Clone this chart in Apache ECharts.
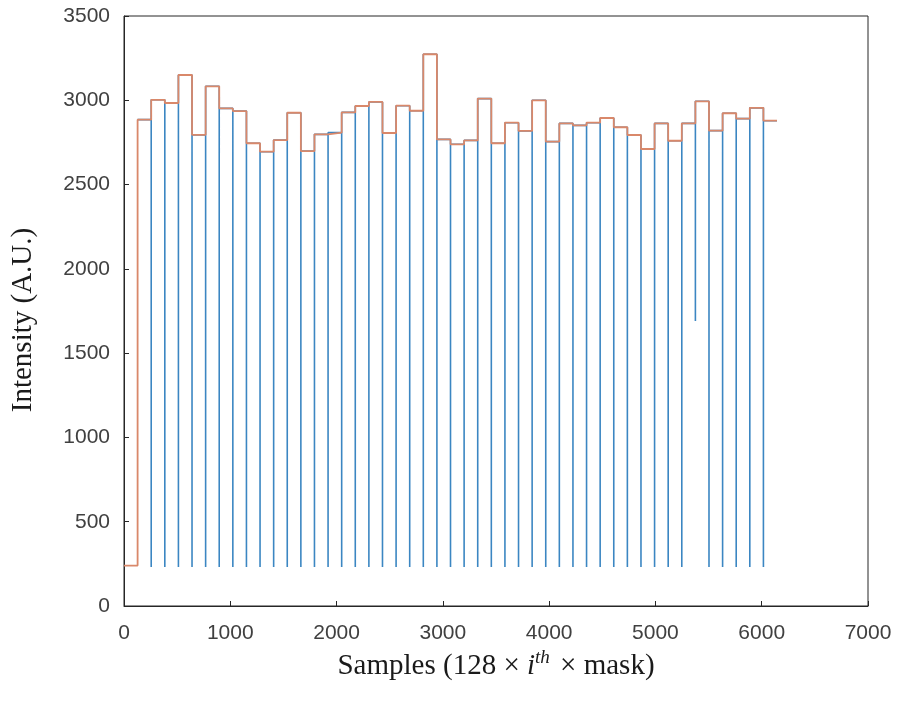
<!DOCTYPE html>
<html>
<head>
<meta charset="utf-8">
<script src="https://cdn.jsdelivr.net/npm/echarts@6/dist/echarts.min.js"></script>
<style>
  html, body { margin: 0; padding: 0; background: #fff; }
  #main { width: 898px; height: 704px; }
</style>
</head>
<body>
<div id="main"></div>
<script>
// samples per block (one mask step)
const blockSize = 128

// level of each 128-sample block
const blockLevels = [
    240, 2885, 3003, 2984, 3150, 2795, 3083, 2952, 2936, 2745,
    2695, 2764, 2926, 2699, 2798, 2808, 2928, 2966, 2990, 2806,
    2968, 2938, 3273, 2768, 2739, 2762, 3010, 2745, 2867, 2818,
    3000, 2755, 2863, 2851, 2867, 2895, 2840, 2794, 2711, 2863,
    2760, 2863, 2994, 2820, 2923, 2891, 2955, 2879
]

// blue trace dips at the start of blocks 2..47
const dipLevels = [
    232, 232, 232, 232, 232, 232, 232, 232, 232, 232,
    232, 232, 232, 232, 232, 232, 232, 232, 232, 232,
    232, 232, 232, 232, 232, 232, 232, 232, 232, 232,
    232, 232, 232, 232, 232, 232, 232, 232, 232, 232,
    1690, 232, 232, 232, 232, 232
]
const firstDipBlock = 2

const xTicks = [0, 1000, 2000, 3000, 4000, 5000, 6000, 7000]
const yTicks = [0, 500, 1000, 1500, 2000, 2500, 3000, 3500]

// orange: plain step trace
const stepData = []
blockLevels.forEach((v, k) => {
    stepData.push([k * blockSize, v])
    stepData.push([(k + 1) * blockSize, v])
})

// blue: same steps, but drops at each block boundary (starts where the dips start)
const dipData = []
blockLevels.forEach((v, k) => {
    if (k < firstDipBlock - 1) return
    const d = k - firstDipBlock
    if (d >= 0 && d < dipLevels.length) {
        dipData.push([k * blockSize, dipLevels[d]])
    }
    dipData.push([k * blockSize, v])
    dipData.push([(k + 1) * blockSize, v])
})

const axisColor = '#262626'
const labelColor = '#404040'
const serif = 'Liberation Serif, Times New Roman, serif'
const plain = v => String(v)

const chart = echarts.init(document.getElementById('main'))

chart.setOption({
    animation: false,
    backgroundColor: '#fff',
    grid: {
        left: 124, right: 30, top: 16, bottom: 98,
        show: true, borderColor: axisColor, borderWidth: 1
    },
    xAxis: {
        type: 'value',
        min: xTicks[0],
        max: xTicks[xTicks.length - 1],
        interval: 1000,
        splitLine: { show: false },
        axisLine: { lineStyle: { color: axisColor, width: 1 } },
        axisTick: { inside: true, length: 5, lineStyle: { color: axisColor } },
        axisLabel: {
            color: labelColor, fontSize: 21, margin: 17, formatter: plain,
            fontFamily: 'Liberation Sans, Arial, sans-serif'
        },
        name: '{a|Samples (128 × }{i|i}{s|th}{a| × mask)}',
        nameLocation: 'middle',
        nameGap: 40,
        nameTextStyle: {
            rich: {
                a: { fontSize: 29, color: '#1a1a1a', fontFamily: serif },
                i: { fontSize: 29, color: '#1a1a1a', fontStyle: 'italic', fontFamily: serif },
                s: { fontSize: 19, color: '#1a1a1a', fontStyle: 'italic', padding: [0, 3, 16, 0], fontFamily: serif }
            }
        }
    },
    yAxis: {
        type: 'value',
        min: yTicks[0],
        max: yTicks[yTicks.length - 1],
        interval: 500,
        splitLine: { show: false },
        axisLine: { show: true, lineStyle: { color: axisColor, width: 1 } },
        axisTick: { show: true, inside: true, length: 5, lineStyle: { color: axisColor } },
        axisLabel: {
            color: labelColor, fontSize: 21, margin: 14, formatter: plain,
            fontFamily: 'Liberation Sans, Arial, sans-serif'
        },
        name: 'Intensity (A.U.)',
        nameLocation: 'middle',
        nameGap: 86,
        nameTextStyle: {
            fontSize: 29, color: '#1a1a1a', fontFamily: serif,
            padding: [0, 18, 0, 0]
        }
    },
    series: [
        {
            name: 'masked',
            type: 'line',
            data: dipData,
            showSymbol: false,
            lineStyle: { color: '#3b86c2', width: 1.6 },
            z: 2
        },
        {
            name: 'steps',
            type: 'line',
            data: stepData,
            showSymbol: false,
            lineStyle: { color: '#d9886a', width: 1.8 },
            z: 3
        }
    ]
})
</script>
</body>
</html>
